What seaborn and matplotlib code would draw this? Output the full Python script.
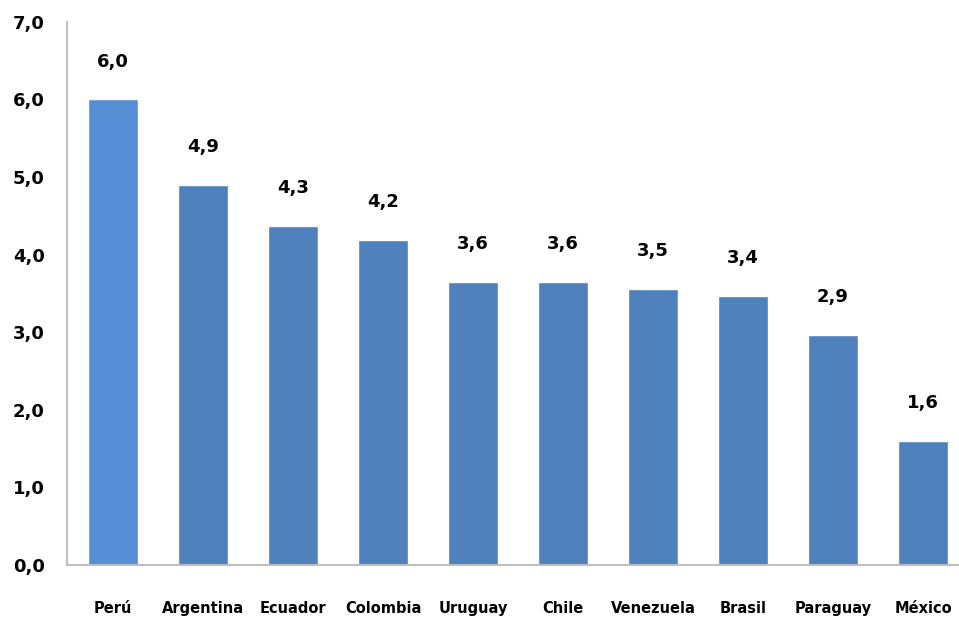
import matplotlib
matplotlib.use("Agg")
import matplotlib.pyplot as plt
import seaborn as sns
import pandas as pd

countries = ["Perú", "Argentina", "Ecuador", "Colombia", "Uruguay", "Chile",
             "Venezuela", "Brasil", "Paraguay", "México"]
values = [6.0, 4.9, 4.37, 4.19, 3.65, 3.65, 3.56, 3.47, 2.97, 1.6]
value_labels = ["6,0", "4,9", "4,3", "4,2", "3,6", "3,6", "3,5", "3,4", "2,9", "1,6"]
y_ticks = [0, 1, 2, 3, 4, 5, 6, 7]
y_tick_labels = ["0,0", "1,0", "2,0", "3,0", "4,0", "5,0", "6,0", "7,0"]

sns.set_theme(style="white")
plt.rcParams['font.family'] = ['DejaVu Sans']
plt.rcParams['text.color'] = 'black'
plt.rcParams['xtick.color'] = 'black'
plt.rcParams['ytick.color'] = 'black'

df = pd.DataFrame({"country": countries, "value": values})
colors = ["#558ED5"] + ["#4F81BD"] * (len(countries) - 1)

fig = plt.figure(figsize=(9.59, 6.26), dpi=100)
ax = fig.add_axes([0.0699, 0.0974, 0.9301, 0.8676])
sns.barplot(data=df, x="country", y="value", hue="country", palette=colors,
            legend=False, width=0.55, ax=ax, saturation=1)

ax.set_xlim(-0.51, 9.4)
ax.set_ylim(0, 7)
ax.set_yticks(y_ticks)
ax.set_yticklabels(y_tick_labels, fontsize=13, fontweight="bold", color="black")
ax.tick_params(axis="y", length=0, pad=16, labelcolor="black")
ax.tick_params(axis="x", length=0, pad=26, labelcolor="black")
for lab in ax.get_xticklabels():
    lab.set_fontsize(10.5)
    lab.set_fontweight("bold")
ax.set_xlabel("")
ax.set_ylabel("")

for s in ["top", "right"]:
    ax.spines[s].set_visible(False)
for s in ["left", "bottom"]:
    ax.spines[s].set_color("#BFBFBF")
    ax.spines[s].set_linewidth(1.5)

for i, (v, t) in enumerate(zip(values, value_labels)):
    ax.annotate(t, xy=(i, v), xytext=(0, 27), textcoords="offset points",
                ha="center", va="center", fontsize=13, fontweight="bold",
                color="black")

fig.savefig("out.png", dpi=100)
